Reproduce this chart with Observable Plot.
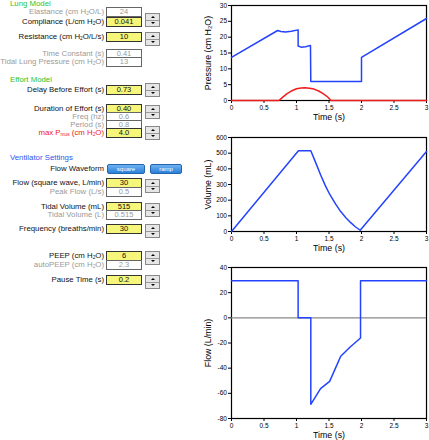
<!DOCTYPE html>
<html><head><meta charset="utf-8">
<script src="https://cdn.jsdelivr.net/npm/d3@7"></script>
<script src="https://cdn.jsdelivr.net/npm/@observablehq/plot@0.6"></script>
<style>
body{margin:0;background:#fff;font-family:"Liberation Sans",Arial,sans-serif;}
#root{position:relative;width:429px;height:440px;overflow:hidden;}
.lbl{position:absolute;left:0;width:104px;text-align:right;font-size:7.8px;line-height:10px;height:10px;white-space:nowrap;color:#111;}
.lbl.g{color:#9a9a9a;}
.lbl.r{color:#f02020;}
.box{position:absolute;left:106px;width:34px;height:8px;border:1px solid #333;font-size:7.5px;line-height:8px;text-align:center;}
.box.in{background:#f6f67a;color:#111;}
.box.o{background:#fff;color:#9a9a9a;border-color:#666;}
.sub{font-size:0.62em;position:relative;top:0.3em;}
.hdr{position:absolute;left:10px;font-size:7.8px;line-height:10px;white-space:nowrap;}
.spin{position:absolute;left:145px;width:15px;height:14px;border:1px solid #888;box-sizing:border-box;background:#e6e6e6;}
.spin div{position:absolute;left:0;width:13px;height:6px;display:flex;align-items:center;justify-content:center;}
.spin .u{top:0;border-bottom:1px solid #999;}
.spin .d{top:6px;}
.tri-u{width:0;height:0;border-left:2px solid transparent;border-right:2px solid transparent;border-bottom:2px solid #000;}
.tri-d{width:0;height:0;border-left:2px solid transparent;border-right:2px solid transparent;border-top:2px solid #000;}
.btn{position:absolute;top:164px;height:10px;border-radius:2px;background:linear-gradient(#6fb2f0,#2a7fd8);border:1px solid #2465b0;box-sizing:border-box;color:#fff;font-size:6px;line-height:8px;text-align:center;}
.chart{position:absolute;left:190px;}
</style>
</head><body><div id="root"></div>
<script>
// ---- chart data ----
const xTicks = [0, 0.5, 1, 1.5, 2, 2.5, 3];
const pressureTicks = [0, 5, 10, 15, 20, 25, 30];
const volumeTicks = [0, 100, 200, 300, 400, 500, 600];
const flowTicks = [-80, -60, -40, -20, 0, 20, 40];

const pawTime  = [0, 0.71, 0.76, 0.83, 0.92, 1.025, 1.025, 1.07, 1.14, 1.215, 1.22, 2.0, 2.0, 3];
const pawValue = [13.6, 22.1, 21.8, 21.65, 21.85, 22.3, 17.2, 16.85, 16.95, 17.4, 6.0, 6.0, 13.6, 25.9];

const pmusTime  = [0, 0.73, 0.78, 0.85, 0.93, 1.0, 1.07, 1.13, 1.2, 1.27, 1.34, 1.41, 1.48, 1.53, 3];
const pmusValue = [0, 0, 0.9, 2.1, 3.1, 3.7, 3.97, 4.0, 3.9, 3.6, 3.0, 2.2, 1.1, 0, 0];

const volTime  = [0, 1.03, 1.22, 1.30, 1.37, 1.44, 1.51, 1.60, 1.68, 1.76, 1.83, 1.90, 1.98, 3];
const volValue = [0, 515, 515, 435, 362, 296, 238, 176, 127, 88, 58, 32, 8, 510];

const flowTime  = [0, 1.025, 1.025, 1.22, 1.22, 1.37, 1.51, 1.6, 1.68, 1.83, 1.985, 1.985, 3];
const flowValue = [29.5, 29.5, 0, 0, -68.7, -56.3, -50.5, -40, -30.5, -23, -16, 29.5, 29.5];

// ---- control panel contents ----
const H2O = 'H<span class="sub">2</span>O';
const rowLabels = [`Elastance (cm ${H2O}/L)`, `Compliance (L/cm ${H2O})`, `Resistance (cm ${H2O}/L/s)`, "Time Constant (s)", `Tidal Lung Pressure (cm ${H2O})`,
  "Delay Before Effort (s)", "Duration of Effort (s)", "Freq (hz)", "Period (s)", `max P<span class="sub">mus</span> (cm ${H2O})`,
  "Flow (square wave, L/min)", "Peak Flow (L/s)", "Tidal Volume (mL)", "Tidal Volume (L)", "Frequency (breaths/min)",
  `PEEP (cm ${H2O})`, `autoPEEP (cm ${H2O})`, "Pause Time (s)"];
const rowValues = ["24", "0.041", "10", "0.41", "13", "0.73", "0.40", "0.6", "0.8", "4.0", "30", "0.5", "515", "0.515", "30", "6", "2.3", "0.2"];
const rowKinds  = ["o", "in", "in", "o", "o", "in", "in", "o", "o", "in", "in", "o", "in", "o", "in", "in", "o", "in"];
const rowY      = [12, 21.5, 37, 54, 62, 90, 108.5, 117, 125, 133, 183, 191.5, 206.5, 215, 229, 256, 264.5, 280];
const spinTops  = [13, 32, 83, 105, 126, 179, 203, 224, 251, 275];

const root = document.getElementById("root");
function add(html){ root.insertAdjacentHTML("beforeend", html); }
add(`<div class="hdr" style="top:-1px;color:#2bc42b">Lung Model</div>`);
add(`<div class="hdr" style="top:75px;color:#2bc42b">Effort Model</div>`);
add(`<div class="hdr" style="top:153px;color:#3355ee">Ventilator Settings</div>`);
add(`<div class="lbl" style="top:164px">Flow Waveform</div>`);
add(`<div class="btn" style="left:107px;width:38px">square</div>`);
add(`<div class="btn" style="left:150px;width:32px">ramp</div>`);
rowLabels.forEach((l, i) => {
  const cls = rowKinds[i] === "o" ? "lbl g" : (i === 9 ? "lbl r" : "lbl");
  add(`<div class="${cls}" style="top:${rowY[i] - 5}px">${l}</div>`);
  add(`<div class="box ${rowKinds[i]}" style="top:${rowY[i] - 5}px">${rowValues[i]}</div>`);
});
spinTops.forEach(t => add(`<div class="spin" style="top:${t}px"><div class="u"><span class="tri-u"></span></div><div class="d"><span class="tri-d"></span></div></div>`));

// ---- charts ----
const blue = "#2443ff", red = "#f01c1c";
function chart({top, height, marginTop, marginBottom, domain, ticks, label, series}) {
  const p = Plot.plot({
    width: 239, height, marginLeft: 41, marginRight: 3, marginTop, marginBottom,
    x: {domain: [0, 3]},
    y: {domain},
    style: {fontFamily: "Liberation Sans, Arial, sans-serif", background: "transparent", overflow: "visible", color: "#000"},
    marks: [
      Plot.frame({stroke: "#000", strokeWidth: 1.2}),
      Plot.axisX({ticks: xTicks, tickSize: 3, tickPadding: 1.5, fontSize: 6.5, label: null, tickFormat: d => String(d)}),
      Plot.axisY({ticks, tickSize: 3, tickPadding: 1.5, fontSize: 6.5, label: null, tickFormat: d => String(d)}),
      ...series,
      Plot.text([label], {text: d => d, frameAnchor: "left", textAnchor: "middle", dx: -23, rotate: -90, fontSize: 8.8}),
      Plot.text(["Time (s)"], {text: d => d, frameAnchor: "bottom", textAnchor: "middle", dy: 19, fontSize: 8.8})
    ]
  });
  p.classList.add("chart");
  p.style.top = top + "px";
  root.appendChild(p);
}
const pts = (ts, vs) => ts.map((t, i) => ({t, v: vs[i]}));

chart({top: 0, height: 125, marginTop: 5, marginBottom: 25, domain: [0, 30], ticks: pressureTicks,
  label: "Pressure (cm H₂O)",
  series: [
    Plot.line(pts(pawTime, pawValue), {x: "t", y: "v", stroke: blue, strokeWidth: 1.5}),
    Plot.line(pts(pmusTime, pmusValue), {x: "t", y: "v", stroke: red, strokeWidth: 1.5})
  ]});
chart({top: 127, height: 129, marginTop: 10, marginBottom: 25, domain: [0, 600], ticks: volumeTicks,
  label: "Volume (mL)",
  series: [Plot.line(pts(volTime, volValue), {x: "t", y: "v", stroke: blue, strokeWidth: 1.5})]});
chart({top: 256, height: 184, marginTop: 11, marginBottom: 22, domain: [-80, 40], ticks: flowTicks,
  label: "Flow (L/min)",
  series: [
    Plot.ruleY([0], {stroke: "#888", strokeWidth: 1.2}),
    Plot.line(pts(flowTime, flowValue), {x: "t", y: "v", stroke: blue, strokeWidth: 1.5})
  ]});
</script>
</body></html>
